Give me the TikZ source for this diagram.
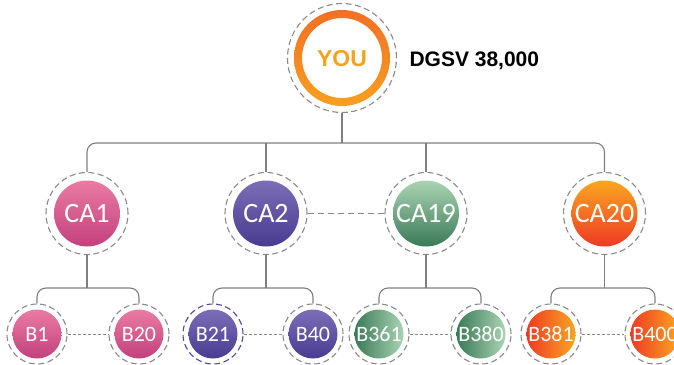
\documentclass[tikz,border=0pt]{standalone}
\usepackage{fontspec}
\setmainfont{Carlito}
\newfontfamily\arialf{Liberation Sans}
\definecolor{pinkT}{HTML}{EA7BA2}
\definecolor{pinkB}{HTML}{C2417E}
\definecolor{purT}{HTML}{7C6EB6}
\definecolor{purB}{HTML}{493B91}
\definecolor{grnT}{HTML}{AAD4B4}
\definecolor{grnB}{HTML}{3A7A57}
\definecolor{orT}{HTML}{FAA621}
\definecolor{orB}{HTML}{EE3A24}
\definecolor{ringT}{HTML}{F26F26}
\definecolor{ringB}{HTML}{F8A01F}
\definecolor{youtxt}{HTML}{F7A11D}
\definecolor{dashgray}{HTML}{8A8A8A}
\definecolor{conngray}{HTML}{7F7F7F}
\definecolor{bluedash}{HTML}{5347A0}
\begin{document}
\begin{tikzpicture}[x=1pt,y=-1pt,
  outerring/.style={circle, draw=dashgray, line width=1.1pt, dash pattern=on 6pt off 3.5pt, inner sep=0pt},
  caouter/.style={outerring, minimum size=82pt},
  bouter/.style={outerring, minimum size=60pt},
  cain/.style={circle, minimum size=66pt, inner sep=0pt, text=white, font=\fontsize{28}{28}\selectfont},
  bin/.style={circle, minimum size=49pt, inner sep=0pt, text=white, font=\fontsize{22}{22}\selectfont},
  conn/.style={draw=conngray, line width=1.1pt},
  cdash/.style={draw=dashgray, line width=1pt, dash pattern=on 6pt off 4pt},
  bdash/.style={draw=dashgray, line width=1pt, dash pattern=on 3pt off 2pt},
  pinkV/.style={top color=pinkT, bottom color=pinkB},
  purV/.style={top color=purT, bottom color=purB},
  grnV/.style={top color=grnT, bottom color=grnB},
  orV/.style={top color=orT, bottom color=orB},
  grnH/.style={left color=grnB, right color=grnT},
  orH/.style={left color=orB, right color=orT}
]
\useasboundingbox (0,0) rectangle (674,364);
\clip (0,0) rectangle (674,364);

% top
\node[outerring, minimum size=109pt] (youo) at (342,58) {};
\path[top color=ringT, bottom color=ringB, even odd rule]
  (342,58) circle[radius=48pt] (342,58) circle[radius=40pt];
\node[circle, minimum size=96pt, inner sep=0pt,
      text=youtxt, font=\arialf\bfseries\fontsize{23}{23}\selectfont] (you) at (342,59) {YOU};
\node[anchor=west, font=\arialf\bfseries\fontsize{21}{21}\selectfont] (dgsv) at (406,61) {DGSV 38,000};

% CA level
\foreach \n/\x in {ca1/87, ca2/266, ca19/426, ca20/604.5}{
  \node[caouter] (\n o) at (\x,213.5) {};
}
\node[cain, pinkV] (ca1) at (87,213.5) {CA1};
\node[cain, purV] (ca2) at (266,213.5) {CA2};
\node[cain, grnV] (ca19) at (426,213.5) {CA19};
\node[cain, orV] (ca20) at (604.5,213.5) {CA20};

\coordinate (lev1) at (342,143);
\coordinate (lev2) at (0,288);

\draw[conn] (youo.south) -- (lev1);
\draw[conn, rounded corners=9pt] (ca1o.north) |- (lev1) -| (ca20o.north);
\draw[conn] (ca2o.north |- lev1) -- (ca2o.north);
\draw[conn] (ca19o.north |- lev1) -- (ca19o.north);
\draw[cdash] (ca2o.east) -- (ca19o.west);

% B level
\node[bouter] (b1o) at (37,334) {};
\node[bouter] (b20o) at (139,334) {};
\node[bouter, draw=bluedash] (b21o) at (213,334) {};
\node[bouter] (b40o) at (313,334) {};
\node[bouter] (b361o) at (379,334) {};
\node[bouter] (b380o) at (481,334) {};
\node[bouter] (b381o) at (551,334) {};
\node[bouter] (b400o) at (655,334) {};

\node[bin, pinkV] (b1) at (37,334) {B1};
\node[bin, pinkV] (b20) at (139,334) {B20};
\node[bin, purV] (b21) at (213,334) {B21};
\node[bin, purV] (b40) at (313,334) {B40};
\node[bin, grnH] (b361) at (379,334) {B361};
\node[bin, grnH] (b380) at (481,334) {B380};
\node[bin, orH] (b381) at (551,334) {B381};
\node[bin, orH] (b400) at (655,334) {B400};

\foreach \c/\l/\r in {ca1/b1/b20, ca2/b21/b40, ca19/b361/b380, ca20/b381/b400}{
  \draw[conn] (\c o.south) -- (\c o.south |- lev2);
  \draw[conn, rounded corners=9pt] (\l o.north) |- (\c o.south |- lev2) -| (\r o.north);
  \draw[bdash] (\l o.east) -- (\r o.west);
}
\end{tikzpicture}
\end{document}
